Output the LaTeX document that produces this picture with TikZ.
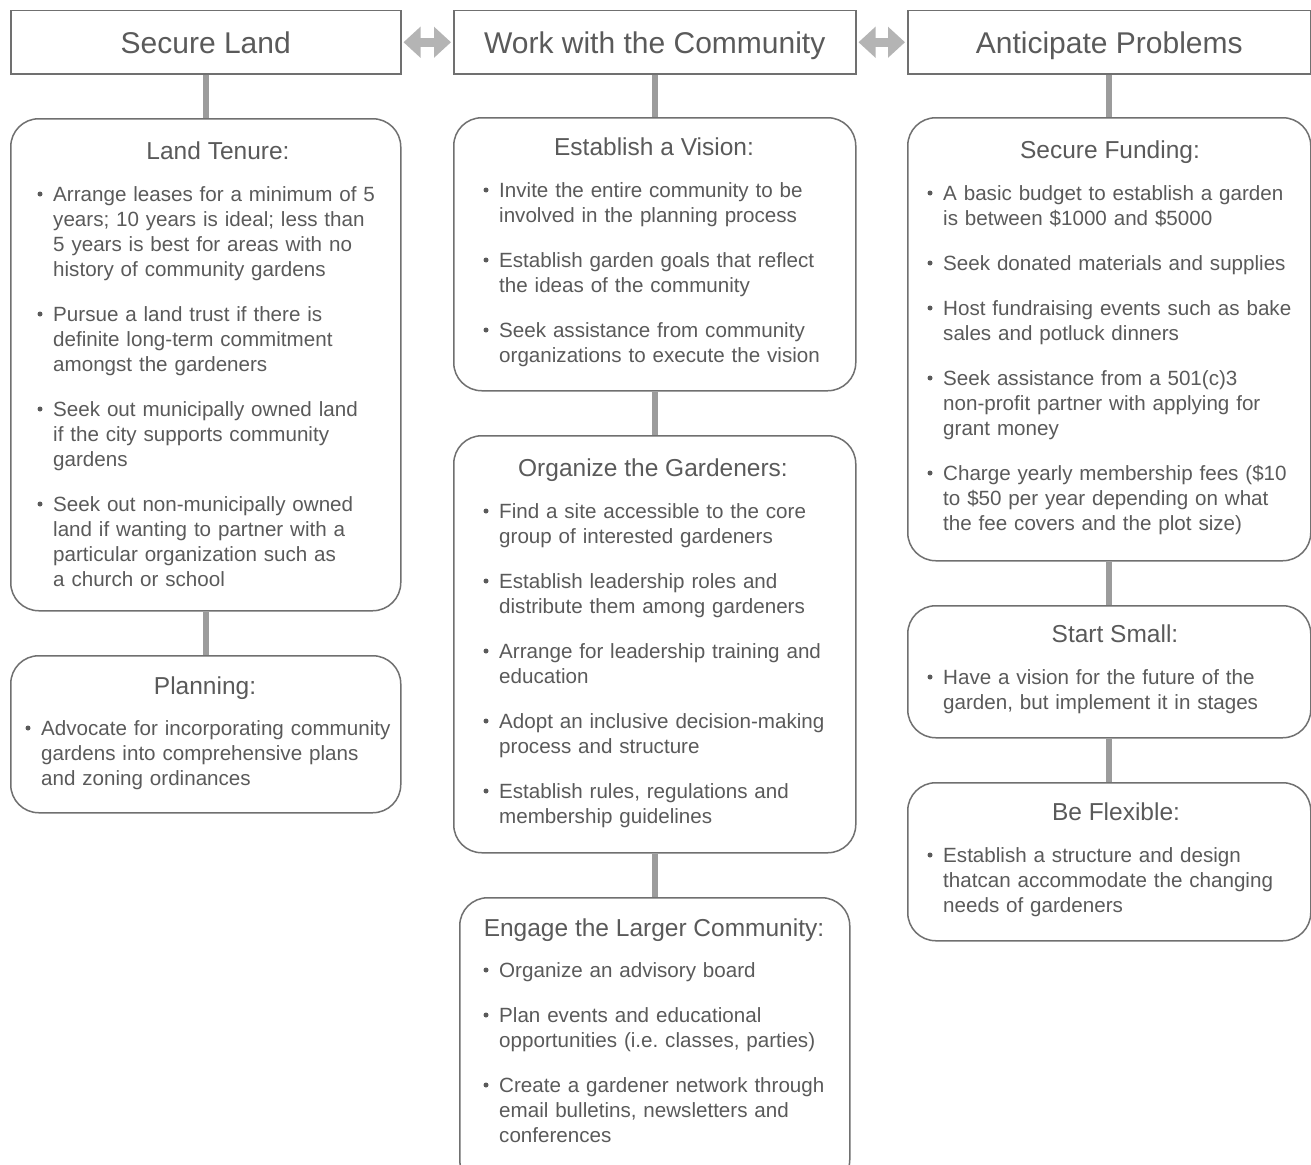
\documentclass[tikz,border=0pt]{standalone}
\usepackage{fontspec}
\setmainfont{Liberation Sans}
\usetikzlibrary{arrows.meta}
\definecolor{txt}{HTML}{5A5A5A}
\definecolor{bord}{HTML}{707070}
\definecolor{conn}{HTML}{9C9C9C}
\definecolor{dblc}{HTML}{B4B4B4}
\newcommand\myitem[4]{\node[btxt] (#1) at (#2,#3) {#4}; \node[bdot] (#1d) at (#2-13,#3-7) {};}
\begin{document}
\begin{tikzpicture}[x=1pt,y=-1pt,
 hbox/.style={draw=bord, line width=1.5pt, rectangle, inner sep=0, minimum height=63pt, text height=21.5pt, text depth=0pt, anchor=north west, text=txt, font=\fontsize{30}{36}\selectfont},
 rbox/.style={draw=bord, line width=1.5pt, rounded corners=28pt, inner sep=0, anchor=north west, fill=white},
 ttl/.style={anchor=base, inner sep=0, text=txt, font=\fontsize{24.5}{29}\selectfont},
 btxt/.style={anchor=base west, inner sep=0, text=txt, text width=390pt, align=left, font=\fontsize{20.6}{25}\selectfont},
 bdot/.style={circle, fill=txt, inner sep=0, minimum size=5pt},
 vconn/.style={draw=conn, line width=6pt},
 harrow/.style={draw=dblc, line width=9pt, {Triangle[width=30pt,length=17pt]}-{Triangle[width=30pt,length=17pt]}, shorten <=2pt, shorten >=2pt}
]
\useasboundingbox (0,0) rectangle (1311,1164);
\clip (0,0) rectangle (1311,1164);
\fill[white] (0,0) rectangle (1311,1164);

% header boxes
\node[hbox, minimum width=390pt] (sl) at (10,10) {Secure Land};
\node[hbox, minimum width=402pt] (wc) at (453,10) {Work with the Community};
\node[hbox, minimum width=403pt] (ap) at (907,10) {Anticipate Problems};

% content boxes
\node[rbox, minimum width=390pt, minimum height=492pt] (lt) at (10,118) {};
\node[rbox, minimum width=390pt, minimum height=157pt] (pl) at (10,655) {};
\node[rbox, minimum width=402pt, minimum height=273pt] (ev) at (453,117) {};
\node[rbox, minimum width=402pt, minimum height=417pt] (og) at (453,435) {};
\node[rbox, minimum width=390pt, minimum height=290pt] (eg) at (459,897) {};
\node[rbox, minimum width=403pt, minimum height=443pt] (sf) at (907,117) {};
\node[rbox, minimum width=403pt, minimum height=132pt] (ss) at (907,605) {};
\node[rbox, minimum width=403pt, minimum height=158pt] (bf) at (907,782) {};

% connectors
\draw[harrow] (sl.east) -- (wc.west);
\draw[harrow] (wc.east) -- (ap.west);
\draw[vconn] (sl.south) -- (lt.north);
\draw[vconn] (lt.south) -- (pl.north);
\draw[vconn] (wc.south) -- (ev.north);
\draw[vconn] (ev.south) -- (og.north);
\draw[vconn] (og.south) -- (eg.north);
\draw[vconn] (ap.south) -- (sf.north);
\draw[vconn] (sf.south) -- (ss.north);
\draw[vconn] (ss.south) -- (bf.north);

% titles
\node[ttl] (ltT) at (218,159) {Land Tenure:};
\node[ttl] (plT) at (205,694) {Planning:};
\node[ttl] (evT) at (654,155) {Establish a Vision:};
\node[ttl] (ogT) at (653,476) {Organize the Gardeners:};
\node[ttl] (egT) at (654,936) {Engage the Larger Community:};
\node[ttl] (sfT) at (1110,158) {Secure Funding:};
\node[ttl] (ssT) at (1115,642) {Start Small:};
\node[ttl] (bfT) at (1116,820) {Be Flexible:};

% Land Tenure
\myitem{lt1}{53}{201}{Arrange leases for a minimum of 5\\ years; 10 years is ideal; less than\\ 5 years is best for areas with no\\ history of community gardens}
\myitem{lt2}{53}{321}{Pursue a land trust if there is\\ definite long-term commitment\\ amongst the gardeners}
\myitem{lt3}{53}{416}{Seek out municipally owned land\\ if the city supports community\\ gardens}
\myitem{lt4}{53}{511}{Seek out non-municipally owned\\ land if wanting to partner with a\\ particular organization such as\\ a church or school}
% Planning
\myitem{pl1}{41}{735}{Advocate for incorporating community\\ gardens into comprehensive plans\\ and zoning ordinances}
% Vision
\myitem{ev1}{499}{197}{Invite the entire community to be\\ involved in the planning process}
\myitem{ev2}{499}{267}{Establish garden goals that reflect\\ the ideas of the community}
\myitem{ev3}{499}{337}{Seek assistance from community\\ organizations to execute the vision}
% Organize
\myitem{og1}{499}{518}{Find a site accessible to the core\\ group of interested gardeners}
\myitem{og2}{499}{588}{Establish leadership roles and\\ distribute them among gardeners}
\myitem{og3}{499}{658}{Arrange for leadership training and\\ education}
\myitem{og4}{499}{728}{Adopt an inclusive decision-making\\ process and structure}
\myitem{og5}{499}{798}{Establish rules, regulations and\\ membership guidelines}
% Engage
\myitem{eg1}{499}{977}{Organize an advisory board}
\myitem{eg2}{499}{1022}{Plan events and educational\\ opportunities (i.e.\ classes, parties)}
\myitem{eg3}{499}{1092}{Create a gardener network through\\ email bulletins, newsletters and\\ conferences}
% Secure Funding
\myitem{sf1}{943}{200}{A basic budget to establish a garden\\ is between \$1000 and \$5000}
\myitem{sf2}{943}{270}{Seek donated materials and supplies}
\myitem{sf3}{943}{315}{Host fundraising events such as bake\\ sales and potluck dinners}
\myitem{sf4}{943}{385}{Seek assistance from a 501(c)3\\ non-profit partner with applying for\\ grant money}
\myitem{sf5}{943}{480}{Charge yearly membership fees (\$10\\ to \$50 per year depending on what\\ the fee covers and the plot size)}
% Start Small
\myitem{ss1}{943}{684}{Have a vision for the future of the\\ garden, but implement it in stages}
% Be Flexible
\myitem{bf1}{943}{862}{Establish a structure and design\\ thatcan accommodate the changing\\ needs of gardeners}
\end{tikzpicture}
\end{document}
